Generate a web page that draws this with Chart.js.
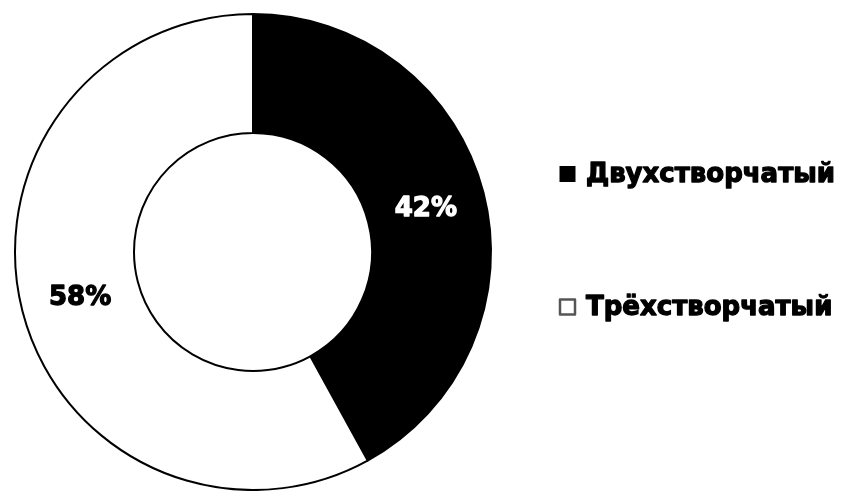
<!DOCTYPE html>
<html>
<head>
<meta charset="utf-8">
<script src="https://cdn.jsdelivr.net/npm/chart.js@4/dist/chart.umd.min.js"></script>
<style>
  html, body { margin: 0; padding: 0; background: #fff; }
  #wrap { width: 847px; height: 491px; position: relative; }
</style>
</head>
<body>
<div id="wrap"><canvas id="valveChart"></canvas></div>
<script>
var labels = ["Двухстворчатый", "Трёхстворчатый"];
var shares = [42, 58];
var fills = ["#000000", "#ffffff"];
var labelColors = ["#ffffff", "#000000"];

var fontFamily = "'DejaVu Sans', 'Liberation Sans', sans-serif";

// heavy text: fill plus a thin stroke of the same colour
function heavyText(ctx, text, x, y, color) {
    ctx.fillStyle = color;
    ctx.strokeStyle = color;
    ctx.lineWidth = 1.3;
    ctx.lineJoin = "round";
    ctx.strokeText(text, x, y);
    ctx.fillText(text, x, y);
}

// percentage labels in the middle of each ring segment
var sliceLabels = {
    id: "sliceLabels",
    afterDatasetsDraw: function (chart) {
        var ctx = chart.ctx;
        var meta = chart.getDatasetMeta(0);
        ctx.save();
        ctx.font = "bold 26px " + fontFamily;
        ctx.textAlign = "center";
        ctx.textBaseline = "middle";
        meta.data.forEach(function (arc, i) {
            var p = arc.tooltipPosition();
            heavyText(ctx, shares[i] + "%", p.x, p.y + 2, labelColors[i]);
        });
        ctx.restore();
    }
};

// legend to the right of the ring
var sideLegend = {
    id: "sideLegend",
    afterDraw: function (chart) {
        var ctx = chart.ctx;
        var x = 560, rows = [174, 307], box = 15;
        ctx.save();
        ctx.font = "bold 26px " + fontFamily;
        ctx.textBaseline = "middle";
        ctx.textAlign = "left";
        labels.forEach(function (text, i) {
            var y = rows[i];
            ctx.fillStyle = fills[i];
            ctx.fillRect(x, y - box / 2, box, box);
            ctx.lineWidth = i === 0 ? 1 : 2.5;
            ctx.strokeStyle = i === 0 ? "#000" : "#555";
            ctx.strokeRect(x, y - box / 2, box, box);
            heavyText(ctx, text, x + box + 11, y + 1, "#000");
        });
        ctx.restore();
    }
};

new Chart(document.getElementById("valveChart"), {
    type: "doughnut",
    data: {
        labels: labels,
        datasets: [{
            data: shares,
            backgroundColor: fills,
            borderColor: "#000",
            borderWidth: 2
        }]
    },
    options: {
        responsive: true,
        maintainAspectRatio: false,
        animation: false,
        cutout: "50%",
        layout: { padding: { top: 13, bottom: 0, left: 14, right: 355 } },
        plugins: {
            legend: { display: false },
            tooltip: { enabled: false }
        }
    },
    plugins: [sliceLabels, sideLegend]
});
</script>
</body>
</html>
